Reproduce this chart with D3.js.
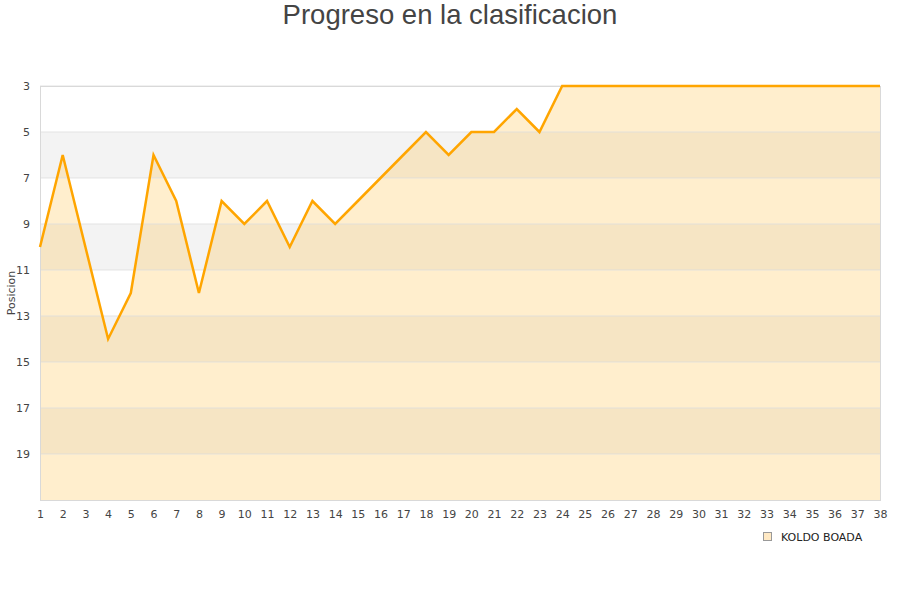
<!DOCTYPE html>
<html>
<head>
<meta charset="utf-8">
<script src="https://cdn.jsdelivr.net/npm/d3@7"></script>
<style>
  body { margin: 0; background: #fff; }
</style>
</head>
<body>
<div id="container"><svg></svg></div>
<script>
let width = 900;
let height = 600;

let title = 'Progreso en la clasificacion';
let seriesName = 'KOLDO BOADA';
let jornadas = d3.range(1, 39);
let posiciones = [10, 6, 10, 14, 12, 6, 8, 12, 8, 9, 8, 10, 8, 9, 8, 7, 6, 5, 6, 5,
                  5, 4, 5, 3, 3, 3, 3, 3, 3, 3, 3, 3, 3, 3, 3, 3, 3, 3];
let yTicks = [3, 5, 7, 9, 11, 13, 15, 17, 19];
let yDomain = [3, 21];

let margin = {left: 40, right: 20, top: 86, bottom: 100};

function draw_graph() {
    let svg = d3.select('#container').select('svg')
        .attr('width', width)
        .attr('height', height);

    let x = d3.scaleLinear().domain([1, 38]).range([margin.left, width - margin.right]);
    let y = d3.scaleLinear().domain(yDomain).range([margin.top, height - margin.bottom]);

    // bandas alternas
    let bands = d3.range(yDomain[0], yDomain[1], 2);
    svg.append('g').selectAll('rect')
        .data(bands)
        .join('rect')
        .attr('x', x(1))
        .attr('width', x(38) - x(1))
        .attr('y', d => y(d))
        .attr('height', d => y(d + 2) - y(d))
        .attr('fill', (d, i) => i % 2 ? '#f3f3f3' : '#ffffff');

    // area
    let area = d3.area()
        .x((d, i) => x(jornadas[i]))
        .y0(y(yDomain[1]))
        .y1(d => y(d));
    svg.append('path')
        .datum(posiciones)
        .attr('d', area)
        .attr('fill', '#ffc14d')
        .attr('fill-opacity', 0.28);

    // grid
    svg.append('g').selectAll('line')
        .data(yTicks)
        .join('line')
        .attr('x1', x(1)).attr('x2', x(38))
        .attr('y1', d => y(d)).attr('y2', d => y(d))
        .attr('stroke', '#ddd')
        .attr('stroke-opacity', 0.8);

    // borde
    svg.append('rect')
        .attr('x', x(1) + 0.5).attr('y', y(yDomain[0]) + 0.5)
        .attr('width', x(38) - x(1)).attr('height', y(yDomain[1]) - y(yDomain[0]))
        .attr('fill', 'none')
        .attr('stroke', '#d9d9d9');

    // linea
    let line = d3.line()
        .x((d, i) => x(jornadas[i]))
        .y(d => y(d));
    svg.append('path')
        .datum(posiciones)
        .attr('d', line)
        .attr('fill', 'none')
        .attr('stroke', '#ffa500')
        .attr('stroke-width', 2.5)
        .attr('stroke-linejoin', 'miter');

    // ejes
    let yAxis = svg.append('g')
        .attr('transform', `translate(${margin.left - 10},0)`)
        .call(d3.axisLeft(y).tickValues(yTicks).tickSize(0).tickPadding(0));
    yAxis.select('.domain').remove();
    yAxis.selectAll('text')
        .attr('font-family', 'DejaVu Sans, sans-serif')
        .attr('font-size', 11)
        .attr('fill', '#444');

    let xAxis = svg.append('g')
        .attr('transform', `translate(0,${height - margin.bottom + 8})`)
        .call(d3.axisBottom(x).tickValues(jornadas).tickFormat(d3.format('d')).tickSize(0).tickPadding(2));
    xAxis.select('.domain').remove();
    xAxis.selectAll('text')
        .attr('font-family', 'DejaVu Sans, sans-serif')
        .attr('font-size', 11)
        .attr('fill', '#444');

    svg.append('text')
        .attr('transform', `translate(15,${(y(yDomain[0]) + y(yDomain[1])) / 2}) rotate(-90)`)
        .attr('text-anchor', 'middle')
        .attr('font-family', 'DejaVu Sans, sans-serif')
        .attr('font-size', 11)
        .attr('fill', '#444')
        .text('Posicion');

    // titulo
    svg.append('text')
        .attr('x', width / 2)
        .attr('y', 24)
        .attr('text-anchor', 'middle')
        .attr('font-family', 'Liberation Sans, Arial, sans-serif')
        .attr('font-size', 27.5)
        .attr('fill', '#444')
        .text(title);

    // leyenda
    let legend = svg.append('g').attr('transform', 'translate(763,532)');
    legend.append('rect')
        .attr('x', 0.5).attr('y', 0.5)
        .attr('width', 8).attr('height', 8)
        .attr('fill', '#ffe9c4')
        .attr('stroke', '#999');
    legend.append('text')
        .attr('x', 18).attr('y', 8.5)
        .attr('font-family', 'DejaVu Sans, sans-serif')
        .attr('font-size', 11)
        .attr('fill', '#222')
        .text(seriesName);
}

draw_graph();
</script>
</body>
</html>
